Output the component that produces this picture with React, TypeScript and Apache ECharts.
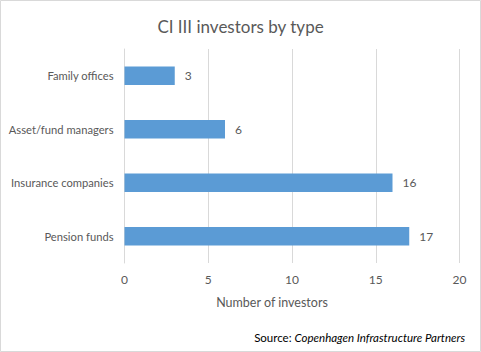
import React, { useEffect, useRef } from "react";
import * as echarts from "echarts";

const categories = ["Pension funds", "Insurance companies", "Asset/fund managers", "Family offices"];
const values = [17, 16, 6, 3];
const xTicks = [0, 5, 10, 15, 20];
const titleText = "CI III investors by type";
const axisTitle = "Number of investors";
const sourceLabel = "Source: ";
const sourceName = "Copenhagen Infrastructure Partners";

const FONT = "Lato, 'Open Sans', sans-serif";
const TXT = "#595959";

export default function App() {
  const ref = useRef<HTMLDivElement>(null);
  useEffect(() => {
    document.body.style.margin = "0";
    const chart = echarts.init(ref.current!, undefined, { renderer: "svg" });
    chart.setOption({
      animation: false,
      backgroundColor: "#ffffff",
      title: {
        text: titleText,
        left: "center",
        top: 13,
        textStyle: { fontFamily: FONT, fontSize: 17, fontWeight: "normal", color: TXT },
      },
      grid: { left: 124.5, right: 21.5, top: 49, bottom: 89 },
      xAxis: {
        type: "value",
        min: xTicks[0],
        max: xTicks[xTicks.length - 1],
        interval: 5,
        axisLine: { show: false },
        axisTick: { show: false },
        axisLabel: { fontFamily: FONT, fontSize: 12, color: TXT, margin: 10 },
        splitLine: { show: true, lineStyle: { color: "#d9d9d9", width: 1 } },
      },
      yAxis: {
        type: "category",
        data: categories,
        axisLine: { show: true, lineStyle: { color: "#d9d9d9" } },
        axisTick: { show: false },
        axisLabel: { fontFamily: FONT, fontSize: 11.2, color: TXT, margin: 11 },
      },
      series: [
        {
          type: "bar",
          data: values,
          barWidth: "35%",
          itemStyle: { color: "#5b9bd5" },
          label: {
            show: true,
            position: "right",
            distance: 10,
            fontFamily: FONT,
            fontSize: 12,
            color: TXT,
          },
        },
      ],
      graphic: [
        {
          type: "rect",
          shape: { x: 0.5, y: 0.5, width: 480, height: 351 },
          style: { fill: "none", stroke: "#d9d9d9", lineWidth: 1 },
          silent: true,
        },
        {
          type: "text",
          x: 272,
          y: 302,
          style: {
            text: axisTitle,
            fontFamily: FONT,
            fontSize: 12.5,
            fill: TXT,
            align: "center",
            verticalAlign: "middle",
          },
        },
        {
          type: "text",
          x: 465,
          y: 337,
          style: {
            text: "{n|" + sourceLabel + "}{i|" + sourceName + "}",
            align: "right",
            verticalAlign: "middle",
            rich: {
              n: { fontFamily: FONT, fontSize: 11.5, fill: "#000000", fontStyle: "normal" },
              i: { fontFamily: FONT, fontSize: 11.5, fill: "#000000", fontStyle: "italic" },
            },
          },
        },
      ],
    });
    return () => chart.dispose();
  }, []);
  return <div ref={ref} style={{ width: 481, height: 352 }} />;
}
